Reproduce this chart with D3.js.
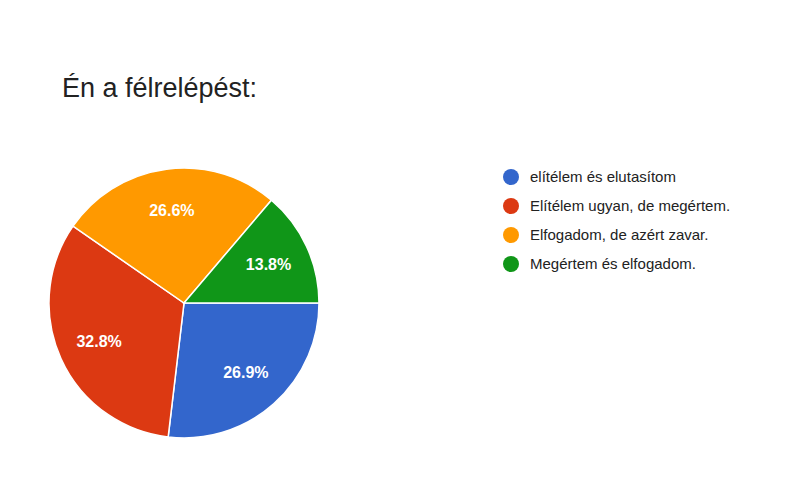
<!DOCTYPE html>
<html>
<head>
<meta charset="utf-8">
<script src="https://cdn.jsdelivr.net/npm/d3@7"></script>
<style>body{margin:0;background:#fff;font-family:"Liberation Sans",Arial,sans-serif}</style>
</head>
<body>
<div id="chart-area"></div>
<script>
const categories = ["elítélem és elutasítom", "Elítélem ugyan, de megértem.", "Elfogadom, de azért zavar.", "Megértem és elfogadom."];
const values = [26.9, 32.8, 26.6, 13.8];
const colors = ["#3366cc", "#dc3912", "#ff9900", "#109618"];

const width = 800, height = 500;
const cx = 184, cy = 303, r = 135;

const svg = d3.select("#chart-area").append("svg")
  .attr("width", width)
  .attr("height", height);

svg.append("text")
  .attr("x", 62).attr("y", 97)
  .attr("font-size", "27px")
  .attr("fill", "#222")
  .text("Én a félrelépést:");

const pie = d3.pie().sort(null)
  .startAngle(Math.PI / 2).endAngle(Math.PI / 2 + 2 * Math.PI);
const arcs = pie(values);
const arc = d3.arc().innerRadius(0).outerRadius(r);
const labelArc = d3.arc().innerRadius(r * 0.69).outerRadius(r * 0.69);

const g = svg.append("g").attr("transform", `translate(${cx},${cy})`);

g.selectAll("path").data(arcs).enter().append("path")
  .attr("d", arc)
  .attr("fill", (d, i) => colors[i])
  .attr("stroke", "#fff")
  .attr("stroke-width", 1.5);

g.selectAll("text").data(arcs).enter().append("text")
  .attr("transform", d => `translate(${labelArc.centroid(d)})`)
  .attr("text-anchor", "middle")
  .attr("dy", "0.35em")
  .attr("font-size", "16px")
  .attr("font-weight", "bold")
  .attr("fill", "#fff")
  .text(d => d.data.toFixed(1) + "%");

const legend = svg.append("g");
const items = legend.selectAll("g").data(categories).enter().append("g")
  .attr("transform", (d, i) => `translate(511,${177 + i * 29})`);
items.append("circle").attr("r", 8).attr("fill", (d, i) => colors[i]);
items.append("text").attr("x", 19).attr("dy", "0.35em")
  .attr("font-size", "15px").attr("fill", "#222").text(d => d);
</script>
</body>
</html>
